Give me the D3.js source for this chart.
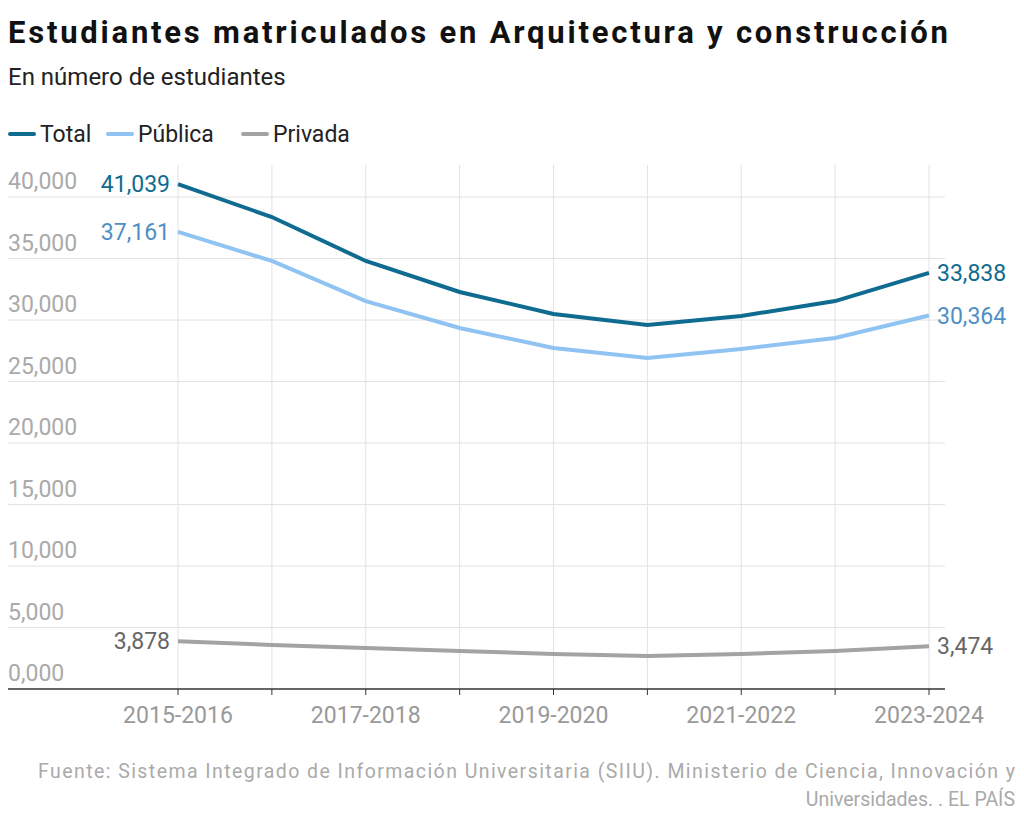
<!DOCTYPE html>
<html><head><meta charset="utf-8">
<script src="https://cdn.jsdelivr.net/npm/d3@7"></script>
<style>body{margin:0;background:#fff;font-family:Roboto,"Noto Sans",sans-serif}</style>
</head><body><svg id="c" width="1024" height="823"></svg>
<script>
var years = ["2015-2016","2016-2017","2017-2018","2018-2019","2019-2020","2020-2021","2021-2022","2022-2023","2023-2024"];
var total = [41039, 38370, 34800, 32280, 30490, 29590, 30330, 31540, 33838];
var publica = [37161, 34800, 31540, 29350, 27720, 26910, 27640, 28540, 30364];
var privada = [3878, 3580, 3330, 3090, 2850, 2680, 2850, 3090, 3474];
var yTicks = [0, 5000, 10000, 15000, 20000, 25000, 30000, 35000, 40000];
var tickLabels = ["0,000","5,000","10,000","15,000","20,000","25,000","30,000","35,000","40,000"];
var xLabels = ["2015-2016","2017-2018","2019-2020","2021-2022","2023-2024"];

var svg = d3.select("#c");
var x = d3.scalePoint().domain(years).range([178, 929]);
var y = d3.scaleLinear().domain([0, 40000]).range([689, 197]);

svg.append("text").attr("x", 8).attr("y", 43).attr("font-size", 31).attr("font-weight", 700)
	.attr("fill", "#111").attr("textLength", 940).text("Estudiantes matriculados en Arquitectura y construcción");
svg.append("text").attr("x", 8).attr("y", 85).attr("font-size", 24).attr("fill", "#222")
	.text("En número de estudiantes");

var series = [
	{name: "Total", values: total, color: "#0f6b90"},
	{name: "Pública", values: publica, color: "#8fc3f2"},
	{name: "Privada", values: privada, color: "#a3a3a3"}
];
var lx = [10, 108, 243];
series.forEach(function (s, i) {
	svg.append("line").attr("x1", lx[i]).attr("x2", lx[i] + 24).attr("y1", 134).attr("y2", 134)
		.attr("stroke", s.color).attr("stroke-width", 4).attr("stroke-linecap", "round");
	svg.append("text").attr("x", lx[i] + 30).attr("y", 142).attr("font-size", 23).attr("fill", "#222").text(s.name);
});

// grid
yTicks.forEach(function (t, i) {
	if (t > 0) svg.append("line").attr("x1", 8).attr("x2", 945).attr("y1", y(t)).attr("y2", y(t))
		.attr("stroke", "#e2e2e2").attr("stroke-width", 1);
	svg.append("text").attr("x", 8).attr("y", y(t) - 8).attr("font-size", 23).attr("fill", "#aaa").text(tickLabels[i]);
});
years.forEach(function (yr) {
	svg.append("line").attr("x1", x(yr)).attr("x2", x(yr)).attr("y1", 165).attr("y2", 689)
		.attr("stroke", "#e2e2e2");
	svg.append("line").attr("x1", x(yr)).attr("x2", x(yr)).attr("y1", 689).attr("y2", 695).attr("stroke", "#333");
});
svg.append("line").attr("x1", 8).attr("x2", 945).attr("y1", 689).attr("y2", 689).attr("stroke", "#333").attr("stroke-width", 1.5);
xLabels.forEach(function (l) {
	svg.append("text").attr("x", x(l)).attr("y", 723).attr("text-anchor", "middle").attr("font-size", 23)
		.attr("fill", "#999").text(l);
});

var line = d3.line().x(function (d, i) { return x(years[i]); }).y(function (d) { return y(d); });
var fmt = d3.format(",");
series.slice().reverse().forEach(function (s) {
	svg.append("path").attr("d", line(s.values)).attr("fill", "none").attr("stroke", s.color).attr("stroke-width", 4);
});
var lblColor = ["#0f6b90", "#4f8fc4", "#666"];
series.forEach(function (s, i) {
	var v0 = s.values[0], v1 = s.values[s.values.length - 1];
	svg.append("text").attr("x", 170).attr("y", y(v0) + 8).attr("text-anchor", "end").attr("font-size", 23)
		.attr("fill", lblColor[i]).text(fmt(v0))
		.attr("stroke", "#fff").attr("stroke-width", 4).attr("paint-order", "stroke");
	svg.append("text").attr("x", 937).attr("y", y(v1) + 8).attr("font-size", 23)
		.attr("fill", lblColor[i]).text(fmt(v1));
});

svg.append("text").attr("x", 1015).attr("y", 778).attr("text-anchor", "end").attr("font-size", 19.5).attr("fill", "#aaa")
	.attr("textLength", 977).text("Fuente: Sistema Integrado de Información Universitaria (SIIU). Ministerio de Ciencia, Innovación y");
svg.append("text").attr("x", 1015).attr("y", 806).attr("text-anchor", "end").attr("font-size", 19.5).attr("fill", "#aaa")
	.text("Universidades. . EL PAÍS");
</script></body></html>
